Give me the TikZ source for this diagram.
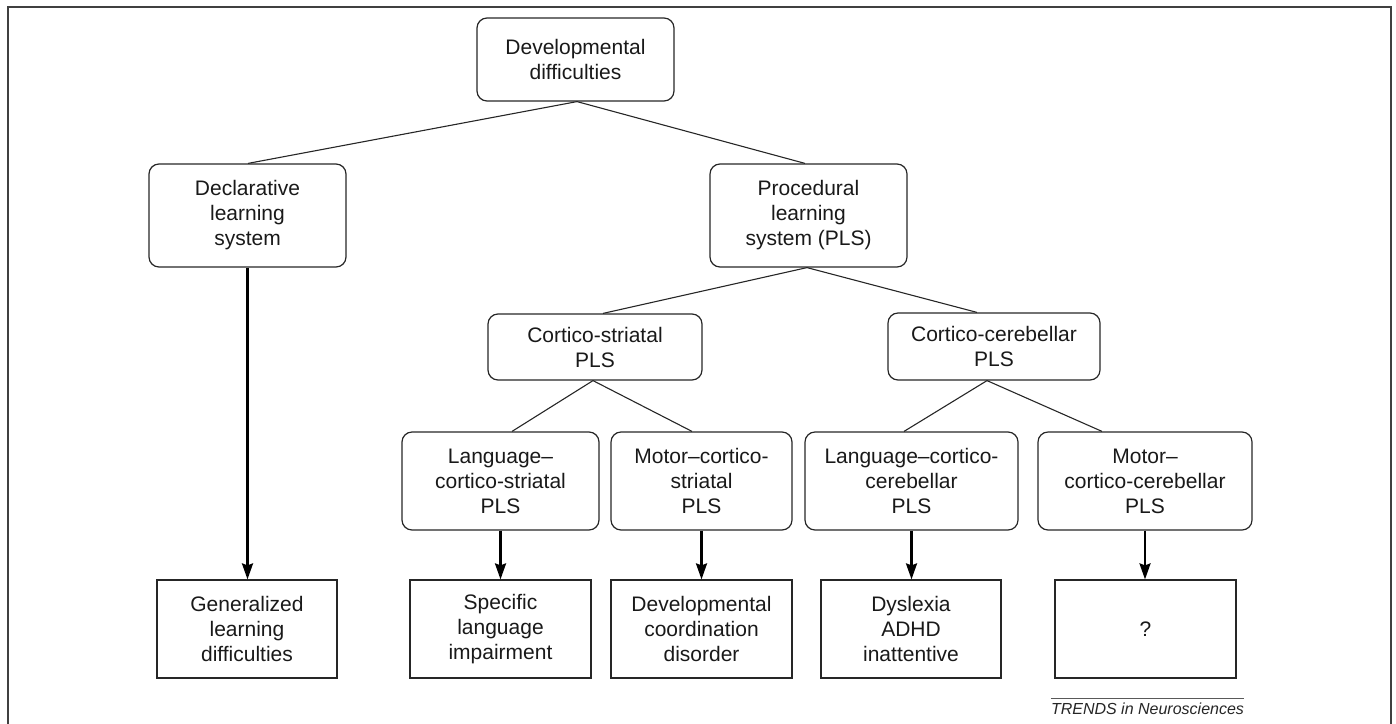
\documentclass[tikz,border=0pt]{standalone}
\usepackage{fontspec}
\setmainfont{Liberation Sans}
\usetikzlibrary{calc,arrows.meta}
\begin{document}
\begin{tikzpicture}[x=1pt,y=-1pt,
  txt/.style={font=\fontsize{21}{25}\selectfont, align=center, text=black!90, inner sep=0pt},
  rbox/.style={txt, draw=black!85, line width=1.2pt, rounded corners=10pt},
  sbox/.style={txt, draw=black!85, line width=1.2pt},
  link/.style={draw=black!85, line width=1.1pt},
  arr/.style={draw=black, line width=2.4pt, -{Stealth[length=16pt,width=11pt,inset=2pt]}},
]
\useasboundingbox (0,0) rectangle (1396,723);
\draw[line width=2pt, black!75] (8,7) rectangle (1391,745);

% level 0
\node[rbox, minimum width=197pt, minimum height=83pt] (dev) at (575.5,59.5) {Developmental\\difficulties};
% level 1
\node[rbox, minimum width=197pt, minimum height=103pt] (decl) at (247.5,215.5) {Declarative\\learning\\system};
\node[rbox, minimum width=197pt, minimum height=103pt] (proc) at (808.5,215.5) {Procedural\\learning\\system (PLS)};
% level 2
\node[rbox, minimum width=214pt, minimum height=66pt] (cs) at (595,347) {Cortico-striatal\\PLS};
\node[rbox, minimum width=212pt, minimum height=67pt] (cc) at (994,346.5) {Cortico-cerebellar\\PLS};
% level 3
\node[rbox, minimum width=197pt, minimum height=98pt] (lcs) at (500.5,481) {Language–\\cortico-striatal\\PLS};
\node[rbox, minimum width=181pt, minimum height=98pt] (mcs) at (701.5,481) {Motor–cortico-\\striatal\\PLS};
\node[rbox, minimum width=213pt, minimum height=98pt] (lcc) at (911.5,481) {Language–cortico-\\cerebellar\\PLS};
\node[rbox, minimum width=214pt, minimum height=98pt] (mcc) at (1145,481) {Motor–\\cortico-cerebellar\\PLS};
% outcomes
\node[sbox, minimum width=180pt, minimum height=98pt] (gen) at (247,629) {Generalized\\learning\\difficulties};
\node[sbox, minimum width=181pt, minimum height=98pt] (sli) at (500.5,629) {Specific\\language\\impairment};
\node[sbox, minimum width=181pt, minimum height=98pt] (dcd) at (701.5,629) {Developmental\\coordination\\disorder};
\node[sbox, minimum width=180pt, minimum height=98pt] (dys) at (911,629) {Dyslexia\\ADHD\\inattentive};
\node[sbox, minimum width=181pt, minimum height=98pt] (unk) at (1145.5,629) {?};

% tree links
\draw[link] ($(dev.south)+(1.5,0)$) -- ($(decl.north)+(0.5,0)$);
\draw[link] ($(dev.south)+(1.5,0)$) -- ($(proc.north)+(-3.5,0)$);
\draw[link] ($(proc.south)+(-1.5,0)$) -- ($(cs.north)+(8,0)$);
\draw[link] ($(proc.south)+(-1.5,0)$) -- ($(cc.north)+(-17,0)$);
\draw[link] ($(cs.south)+(-2,0)$) -- ($(lcs.north)+(11.5,0)$);
\draw[link] ($(cs.south)+(-2,0)$) -- ($(mcs.north)+(-9.5,0)$);
\draw[link] ($(cc.south)+(-7,0)$) -- ($(lcc.north)+(-7.5,0)$);
\draw[link] ($(cc.south)+(-7,0)$) -- ($(mcc.north)+(-43,0)$);

% arrows
\draw[arr] (decl.south) -- (decl.south |- gen.north);
\draw[arr] (lcs.south) -- (lcs.south |- sli.north);
\draw[arr] (mcs.south) -- (mcs.south |- dcd.north);
\draw[arr] (lcc.south) -- (lcc.south |- dys.north);
\draw[arr] (mcc.south) -- (mcc.south |- unk.north);

% footer
\node[font=\fontsize{16}{19}\selectfont\itshape, anchor=base, inner sep=0pt, text=black!85] (trends) at (1147.5,714) {TRENDS in Neurosciences};
\draw[line width=1pt, black!65] ($(trends.north west)+(0,-4)$) -- ($(trends.north east)+(0,-4)$);
\end{tikzpicture}
\end{document}
